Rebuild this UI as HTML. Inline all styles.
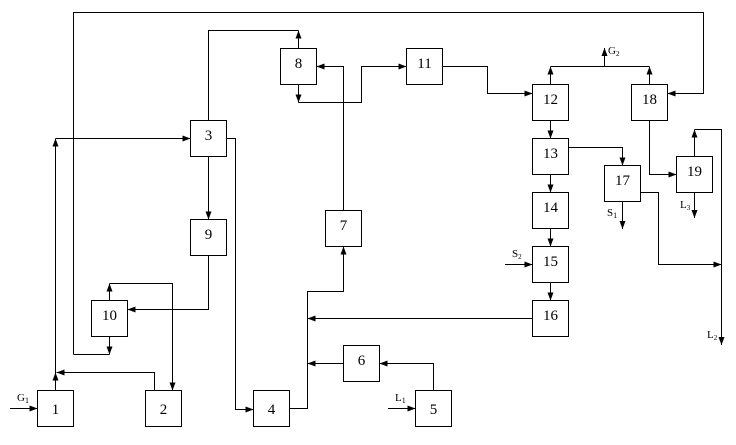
<!DOCTYPE html>
<html><head><meta charset="utf-8"><style>
html,body{margin:0;padding:0;background:#fff;}
svg{display:block;}
text{font-family:"Liberation Serif",serif;fill:#000;}
</style></head><body>
<svg width="736" height="445" viewBox="0 0 736 445" xmlns="http://www.w3.org/2000/svg">
<defs>
<marker id="a" viewBox="0 0 8 8" refX="8" refY="4" markerWidth="8" markerHeight="8" markerUnits="userSpaceOnUse" orient="auto">
<path d="M0,1 L8,4 L0,7 z" fill="#000"/></marker>
</defs>
<g fill="#fff" stroke="#000" stroke-width="1">
<rect x="37.5" y="390.5" width="36" height="36"/>
<rect x="145.5" y="390.5" width="36" height="36"/>
<rect x="190.5" y="120.5" width="36" height="36"/>
<rect x="253.5" y="390.5" width="36" height="36"/>
<rect x="415.5" y="390.5" width="36" height="36"/>
<rect x="343.5" y="345.5" width="36" height="36"/>
<rect x="325.5" y="210.5" width="36" height="36"/>
<rect x="280.5" y="48.5" width="36" height="36"/>
<rect x="190.5" y="219.5" width="36" height="36"/>
<rect x="91.5" y="300.5" width="36" height="36"/>
<rect x="406.5" y="48.5" width="36" height="36"/>
<rect x="532.5" y="84.5" width="36" height="36"/>
<rect x="532.5" y="138.5" width="36" height="36"/>
<rect x="532.5" y="192.5" width="36" height="36"/>
<rect x="532.5" y="246.5" width="36" height="36"/>
<rect x="532.5" y="300.5" width="36" height="36"/>
<rect x="604.5" y="165.5" width="36" height="36"/>
<rect x="631.5" y="84.5" width="36" height="36"/>
<rect x="676.5" y="156.5" width="36" height="36"/>
</g>
<g font-size="15" text-anchor="middle">
<text x="55.5" y="414">1</text><text x="163.5" y="414">2</text><text x="208.5" y="140">3</text>
<text x="271.5" y="414">4</text><text x="433.5" y="414">5</text><text x="361.5" y="365">6</text>
<text x="343.5" y="230">7</text><text x="298.5" y="68">8</text><text x="208.5" y="239">9</text>
<text x="109.5" y="320">10</text><text x="424.5" y="68">11</text><text x="550.5" y="104">12</text>
<text x="550.5" y="158">13</text><text x="550.5" y="212">14</text><text x="550.5" y="266">15</text>
<text x="550.5" y="320">16</text><text x="622.5" y="185">17</text><text x="649.5" y="104">18</text>
<text x="694.5" y="176">19</text>
</g>
<g fill="none" stroke="#000" stroke-width="1">
<polyline points="73.5,354.5 73.5,12.5 703.5,12.5 703.5,93.5 667.5,93.5" marker-end="url(#a)"/>
<polyline points="73.5,354.5 109.5,354.5"/>
<polyline points="109.5,336.5 109.5,354.5" marker-end="url(#a)"/>
<polyline points="55.5,390.5 55.5,138.5" marker-end="url(#a)"/>
<polyline points="55.5,138.5 190.5,138.5" marker-end="url(#a)"/>
<polyline points="55.5,390.5 55.5,372.5" marker-end="url(#a)"/>
<polyline points="154.5,390.5 154.5,372.5 56.5,372.5" marker-end="url(#a)"/>
<polyline points="109.5,300.5 109.5,283.5" marker-end="url(#a)"/>
<polyline points="109.5,283.5 172.5,283.5 172.5,390.5" marker-end="url(#a)"/>
<polyline points="208.5,255.5 208.5,309.5 127.5,309.5" marker-end="url(#a)"/>
<polyline points="208.5,156.5 208.5,219.5" marker-end="url(#a)"/>
<polyline points="208.5,120.5 208.5,30.5 298.5,30.5"/>
<polyline points="298.5,48.5 298.5,30.5" marker-end="url(#a)"/>
<polyline points="226.5,138.5 235.5,138.5 235.5,409.5 253.5,409.5" marker-end="url(#a)"/>
<polyline points="289.5,408.5 307.5,408.5 307.5,291.5 343.5,291.5 343.5,246.5" marker-end="url(#a)"/>
<polyline points="532.5,318.5 307.5,318.5" marker-end="url(#a)"/>
<polyline points="343.5,363.5 307.5,363.5" marker-end="url(#a)"/>
<polyline points="433.5,390.5 433.5,363.5 379.5,363.5" marker-end="url(#a)"/>
<polyline points="388,408.5 415.5,408.5" marker-end="url(#a)"/>
<polyline points="10,408.5 37.5,408.5" marker-end="url(#a)"/>
<polyline points="343.5,210.5 343.5,66.5 316.5,66.5" marker-end="url(#a)"/>
<polyline points="298.5,84.5 298.5,102.5" marker-end="url(#a)"/>
<polyline points="298.5,102.5 361.5,102.5 361.5,66.5 406.5,66.5" marker-end="url(#a)"/>
<polyline points="442.5,66.5 487.5,66.5 487.5,93.5 532.5,93.5" marker-end="url(#a)"/>
<polyline points="550.5,84.5 550.5,66.5" marker-end="url(#a)"/>
<polyline points="550.5,66.5 649.5,66.5"/>
<polyline points="649.5,84.5 649.5,66.5" marker-end="url(#a)"/>
<polyline points="604.5,66.5 604.5,48" marker-end="url(#a)"/>
<polyline points="550.5,120.5 550.5,138.5" marker-end="url(#a)"/>
<polyline points="550.5,174.5 550.5,192.5" marker-end="url(#a)"/>
<polyline points="550.5,228.5 550.5,246.5" marker-end="url(#a)"/>
<polyline points="550.5,282.5 550.5,300.5" marker-end="url(#a)"/>
<polyline points="568.5,147.5 622.5,147.5 622.5,165.5" marker-end="url(#a)"/>
<polyline points="622.5,201.5 622.5,229" marker-end="url(#a)"/>
<polyline points="640.5,192.5 658.5,192.5 658.5,264.5 721.5,264.5" marker-end="url(#a)"/>
<polyline points="694.5,156.5 694.5,129.5" marker-end="url(#a)"/>
<polyline points="694.5,129.5 721.5,129.5 721.5,345" marker-end="url(#a)"/>
<polyline points="649.5,120.5 649.5,174.5 676.5,174.5" marker-end="url(#a)"/>
<polyline points="694.5,192.5 694.5,218" marker-end="url(#a)"/>
<polyline points="505,264.5 532.5,264.5" marker-end="url(#a)"/>
</g>
<g font-size="11">
<text x="17" y="401">G<tspan font-size="8" dy="2">1</tspan></text>
<text x="395" y="401">L<tspan font-size="8" dy="2">1</tspan></text>
<text x="608" y="54">G<tspan font-size="7" dy="2">2</tspan></text>
<text x="607" y="216">S<tspan font-size="8" dy="2">1</tspan></text>
<text x="512" y="257">S<tspan font-size="7" dy="2">2</tspan></text>
<text x="680" y="208">L<tspan font-size="7" dy="2">3</tspan></text>
<text x="707" y="338">L<tspan font-size="7" dy="2">2</tspan></text>
</g>
</svg>
</body></html>
